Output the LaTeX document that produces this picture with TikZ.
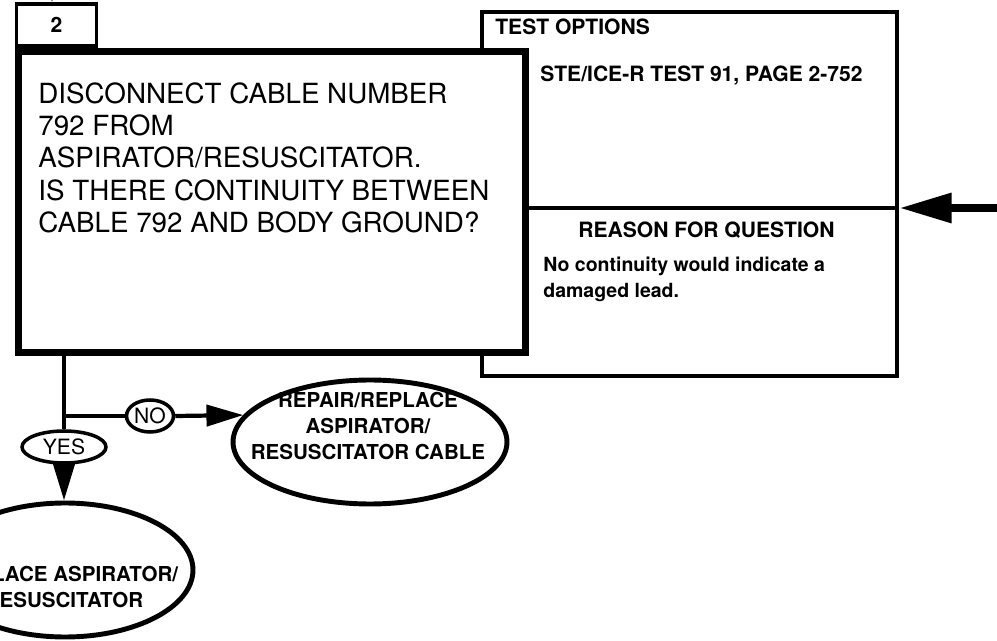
\documentclass[tikz,border=0pt]{standalone}
\usepackage{fontspec}
\setmainfont{TeX Gyre Heros}
\usetikzlibrary{positioning, arrows.meta, shapes.geometric}

\begin{document}
\begin{tikzpicture}[
    x=0.02cm, y=-0.02cm,
    % Define common styles
        optbox/.style={draw, rectangle, line width=2.2pt, inner sep=0pt, minimum width=8.3cm, minimum height=7.28cm},
        qbox/.style={draw, rectangle, line width=4pt, fill=white, inner sep=0pt, minimum width=10.16cm, minimum height=6.02cm},
        tabbox/.style={draw, rectangle, line width=2.2pt, inner sep=0pt, minimum width=1.6cm, minimum height=0.84cm, font=\fontsize{12}{14}\selectfont\bfseries},
        qtext/.style={align=left, inner sep=0pt, font=\fontsize{15.8}{18.4}\selectfont},
        head/.style={inner sep=0pt, font=\fontsize{12}{14}\selectfont\bfseries},
        body/.style={align=left, inner sep=0pt, font=\fontsize{11.1}{14.7}\selectfont\bfseries},
        result/.style={draw, ellipse, line width=2.8pt, inner sep=0pt},
        restext/.style={align=center, inner sep=0pt, font=\fontsize{11.7}{14.9}\selectfont\bfseries},
        answer/.style={draw, ellipse, line width=2pt, inner sep=0pt, minimum height=0.64cm, font=\fontsize{12}{14}\selectfont},
        link/.style={line width=2.6pt},
        divider/.style={line width=2.2pt},
        arrow/.style={-{Triangle[length=21pt, width=12pt]}, line width=2.4pt},
        feedarrow/.style={-{Triangle[length=30pt, width=16pt]}, line width=5pt}
    ]
        \useasboundingbox (0,0) rectangle (997,641);
        \clip (0,0) rectangle (997,641);

        % Test options panel, behind the question box
        \node[optbox] (opts) at (689.5,194) {};
        \node[head, anchor=base west] (optshead) at (495,35) {TEST OPTIONS};
        \node[head, anchor=base west] (optsbody) at (540,82) {STE/ICE-R TEST 91, PAGE 2-752};

        % Question box with its step tab
        \node[qbox] (main) at (272,202) {};
        \node[qtext, anchor=north west] (question) at (38,82) {DISCONNECT CABLE NUMBER\\792 FROM\\ASPIRATOR/RESUSCITATOR.\\IS THERE CONTINUITY BETWEEN\\CABLE 792 AND BODY GROUND?};
        \node[tabbox, anchor=south west] (tab) at (main.north west) {2};

        % Reason for question
        \coordinate (feed) at (1000,208);
        \draw[divider] (main.east |- feed) -- (opts.east |- feed);
        \node[head, anchor=base west] (reasonhead) at (578,238) {REASON FOR QUESTION};
        \node[body, anchor=north west] (reason) at (543,257) {No continuity would indicate a\\damaged lead.};

        % Incoming arrows
        \draw[feedarrow] (feed) -- (opts.east |- feed);
        \coordinate (entry) at (52,-30);
        \draw[arrow] (entry) -- (entry |- tab.north);

        % Answers and results
        \node[answer, minimum width=1.68cm] (yes) at (64,447) {YES};
        \node[answer, minimum width=0.94cm] (no) at (150,416) {NO};
        \node[result, minimum width=5.48cm, minimum height=2.48cm] (repair) at (370,442) {};
        \node[restext, anchor=north] (repairtxt) at (368,392) {REPAIR/REPLACE\\ASPIRATOR/\\RESUSCITATOR CABLE};
        \node[result, minimum width=5.12cm, minimum height=2.68cm] (replace) at (65,570) {};
        \node[restext, anchor=north] (replacetxt) at (64,566) {REPLACE ASPIRATOR/\\RESUSCITATOR};

        % Draw connectors
        \coordinate (split) at (yes.north |- no.west);
        \draw[link] (main.south -| yes.north) -- (yes.north);
        \draw[link] (split) -- (no.west);
        \draw[arrow] (no.east) -- (repair.168);
        \draw[arrow] (yes.south) -- (yes.south |- replace.north);

    \end{tikzpicture}
\end{document}
